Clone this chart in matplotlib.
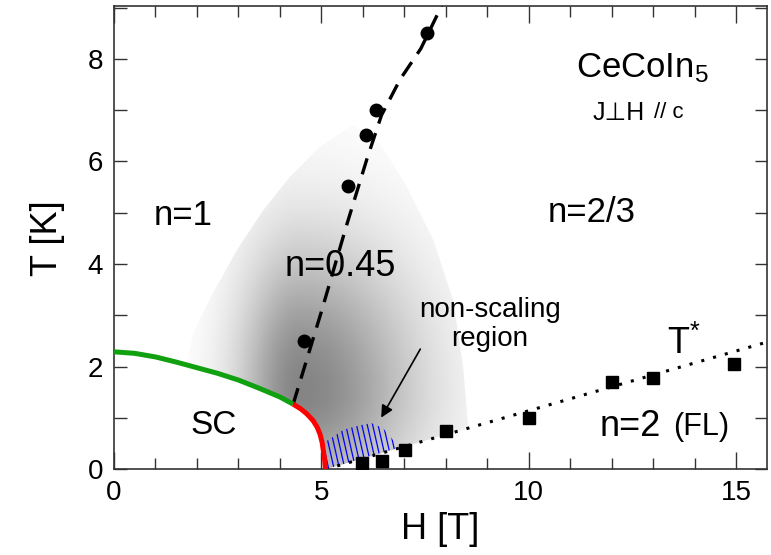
import numpy as np
import matplotlib
matplotlib.use("Agg")
import matplotlib.pyplot as plt
from matplotlib.patches import Polygon
from matplotlib.ticker import MultipleLocator, FixedLocator

plt.rcParams['font.family'] = ['Liberation Sans', 'DejaVu Sans']
plt.rcParams['mathtext.fontset'] = 'custom'
plt.rcParams['mathtext.rm'] = 'Liberation Sans'
plt.rcParams['mathtext.it'] = 'Liberation Sans'

# upper critical field, split into the second-order (green) and first-order (red) parts
hc2_green_h = [0.0, 0.5, 1.0, 1.5, 2.0, 2.5, 3.0, 3.5, 4.0, 4.32]
hc2_green_t = [2.29, 2.26, 2.19, 2.09, 1.98, 1.87, 1.74, 1.58, 1.41, 1.27]
hc2_red_h = [4.32, 4.5, 4.65, 4.8, 4.9, 4.97, 5.02, 5.05, 5.08, 5.1]
hc2_red_t = [1.27, 1.18, 1.08, 0.95, 0.82, 0.68, 0.52, 0.35, 0.18, 0.0]

# crossover from n=1 to n=0.45 (circles) and its guide line
circ_h = [4.58, 5.64, 6.07, 6.33, 7.55]
circ_t = [2.5, 5.52, 6.52, 7.0, 8.5]
dash_h = [4.32, 5.0, 5.61, 6.1, 6.45, 6.9, 7.4, 7.9]
dash_t = [1.27, 3.07, 4.76, 6.05, 6.9, 7.6, 8.2, 9.03]

# Fermi-liquid temperature T* (squares) and its guide line
sq_h = [5.97, 6.47, 7.02, 8.0, 10.0, 12.0, 13.0, 14.95]
sq_t = [0.13, 0.16, 0.38, 0.74, 1.0, 1.71, 1.78, 2.06]
dot_h = [5.1, 15.75]
dot_t = [0.0, 2.48]

# outline of the shaded n=0.45 region
shade_left_h = [5.77, 4.97, 4.24, 3.6, 2.96, 2.39, 1.91, 1.75]
shade_left_t = [6.71, 6.29, 5.7, 5.05, 4.27, 3.44, 2.66, 2.05]
shade_right_h = [8.55, 8.54, 8.42, 8.18, 7.7, 7.06, 6.41, 5.77]
shade_right_t = [0.8, 0.83, 2.0, 3.3, 4.47, 5.51, 6.35, 6.71]

# top edge of the hatched non-scaling region
ns_top_h = [6.81, 6.73, 6.49, 6.21, 5.93, 5.53, 5.17, 5.02]
ns_top_t = [0.41, 0.57, 0.8, 0.9, 0.86, 0.77, 0.57, 0.52]

fig = plt.figure(figsize=(7.71, 5.55), dpi=100)
ax = fig.add_axes([0.1479, 0.1544, 0.847, 0.8348])
ax.set_xlim(0, 15.75)
ax.set_ylim(0, 9.03)

# grey shading: SC boundary + T* line underneath, outline on top
hc2_h = hc2_green_h + hc2_red_h[1:]
hc2_t = hc2_green_t + hc2_red_t[1:]
lo = [(h, t) for h, t in zip(hc2_h, hc2_t) if h >= 1.75]
slope = (dot_t[1] - dot_t[0]) / (dot_h[1] - dot_h[0])
shade_pts = ([(1.75, 2.05)] + lo + [(dot_h[0], dot_t[0])] +
             [(8.55, dot_t[0] + slope * (8.55 - dot_h[0]))] +
             list(zip(shade_right_h, shade_right_t)) + list(zip(shade_left_h, shade_left_t)))
shade = Polygon(shade_pts, closed=True, facecolor='none', edgecolor='none')
ax.add_patch(shade)

gh, gt = np.meshgrid(np.linspace(0, 9, 400), np.linspace(0, 7.2, 400))
sx = np.where(gh < 4.5, 1.5, 2.8)
sy = np.where(gt < 1.5, 2.0, 2.9)
g = np.exp(-((gh - 4.5) / sx) ** 2 - ((gt - 1.5) / sy) ** 2)
val = 1 - 0.48 * g
im = ax.imshow(val, extent=(0, 9, 0, 7.2), origin='lower', cmap='gray',
               vmin=0, vmax=1, aspect='auto', interpolation='bilinear', zorder=1)
im.set_clip_path(shade)

# hatched non-scaling region
ns_pts = ([(h, t) for h, t in zip(hc2_red_h, hc2_red_t) if t <= 0.52] +
          [(6.81, 0.41)] + list(zip(ns_top_h, ns_top_t)))
ns_patch = Polygon(ns_pts, closed=True, facecolor='none', edgecolor='none')
ax.add_patch(ns_patch)
for x0 in np.arange(4.9, 7.2, 0.13):
    ln, = ax.plot([x0, x0 + 0.28], [1.0, 0.0], color='blue', lw=0.9, zorder=2)
    ln.set_clip_path(ns_patch)

ax.plot(hc2_green_h, hc2_green_t, color='#10a010', lw=3.6, solid_capstyle='butt', zorder=4)
ax.plot(hc2_red_h, hc2_red_t, color='red', lw=3.6, solid_capstyle='butt', zorder=4)
ax.plot(dash_h, dash_t, color='black', lw=2.4, linestyle=(0, (5, 3)), zorder=3)
ax.plot(dot_h, dot_t, color='black', lw=2.2, linestyle=(0, (1, 3)), zorder=3)
ax.plot(circ_h, circ_t, 'o', color='black', ms=9, zorder=5)
ax.plot(sq_h, sq_t, 's', color='black', ms=8, zorder=5)

# labels of the regions
ax.text(1.66, 4.95, 'n=1', fontsize=25, ha='center', va='center')
ax.text(11.53, 5.0, 'n=2/3', fontsize=25, ha='center', va='center')
ax.text(5.45, 3.95, 'n=0.45', fontsize=26, ha='center', va='center', zorder=6)
ax.text(2.4, 0.86, 'SC', fontsize=24, ha='center', va='center')
ax.text(12.46, 0.83, 'n=2', fontsize=26, ha='center', va='center')
ax.text(14.17, 0.83, '(FL)', fontsize=22, ha='center', va='center')
ax.text(13.75, 2.45, r'T$^{*}$', fontsize=26, ha='center', va='center')
ax.text(9.07, 2.83, 'non-scaling\nregion', fontsize=20, ha='center', va='center',
        linespacing=1.15)
ax.annotate('', xy=(6.41, 0.96), xytext=(7.42, 2.39),
            arrowprops=dict(arrowstyle='-|>', color='black', lw=1.2, mutation_scale=18))
ax.text(12.73, 7.82, r'CeCoIn$_5$', fontsize=25, ha='center', va='center')
ax.text(12.17, 6.95, 'J⊥H', fontsize=18, ha='center', va='center')
ax.text(13.37, 6.95, '// c', fontsize=16, ha='center', va='center')

ax.set_xlabel('H [T]', fontsize=26, labelpad=4)
ax.set_ylabel('T [K]', fontsize=26, labelpad=16)

ax.xaxis.set_major_locator(MultipleLocator(5))
ax.xaxis.set_minor_locator(MultipleLocator(1))
ax.yaxis.set_major_locator(FixedLocator([0, 2, 4, 6, 8]))
ax.yaxis.set_minor_locator(FixedLocator([1, 3, 5, 7, 9]))
ax.tick_params(which='both', direction='in', top=True, right=True, labelsize=20,
               color='#333333', width=1.0)
ax.tick_params(axis='x', which='major', length=12, pad=8)
ax.tick_params(axis='x', which='minor', length=8)
ax.tick_params(axis='y', which='both', length=9, pad=8)
for tk in ax.yaxis.get_minor_ticks():
    if abs(tk.get_loc() - 5) < 1e-6:
        tk.tick1line.set_markersize(13)
        tk.tick2line.set_markersize(13)
for sp in ax.spines.values():
    sp.set_color('#333333')
    sp.set_linewidth(1.2)

fig.savefig('out.png', dpi=100)
